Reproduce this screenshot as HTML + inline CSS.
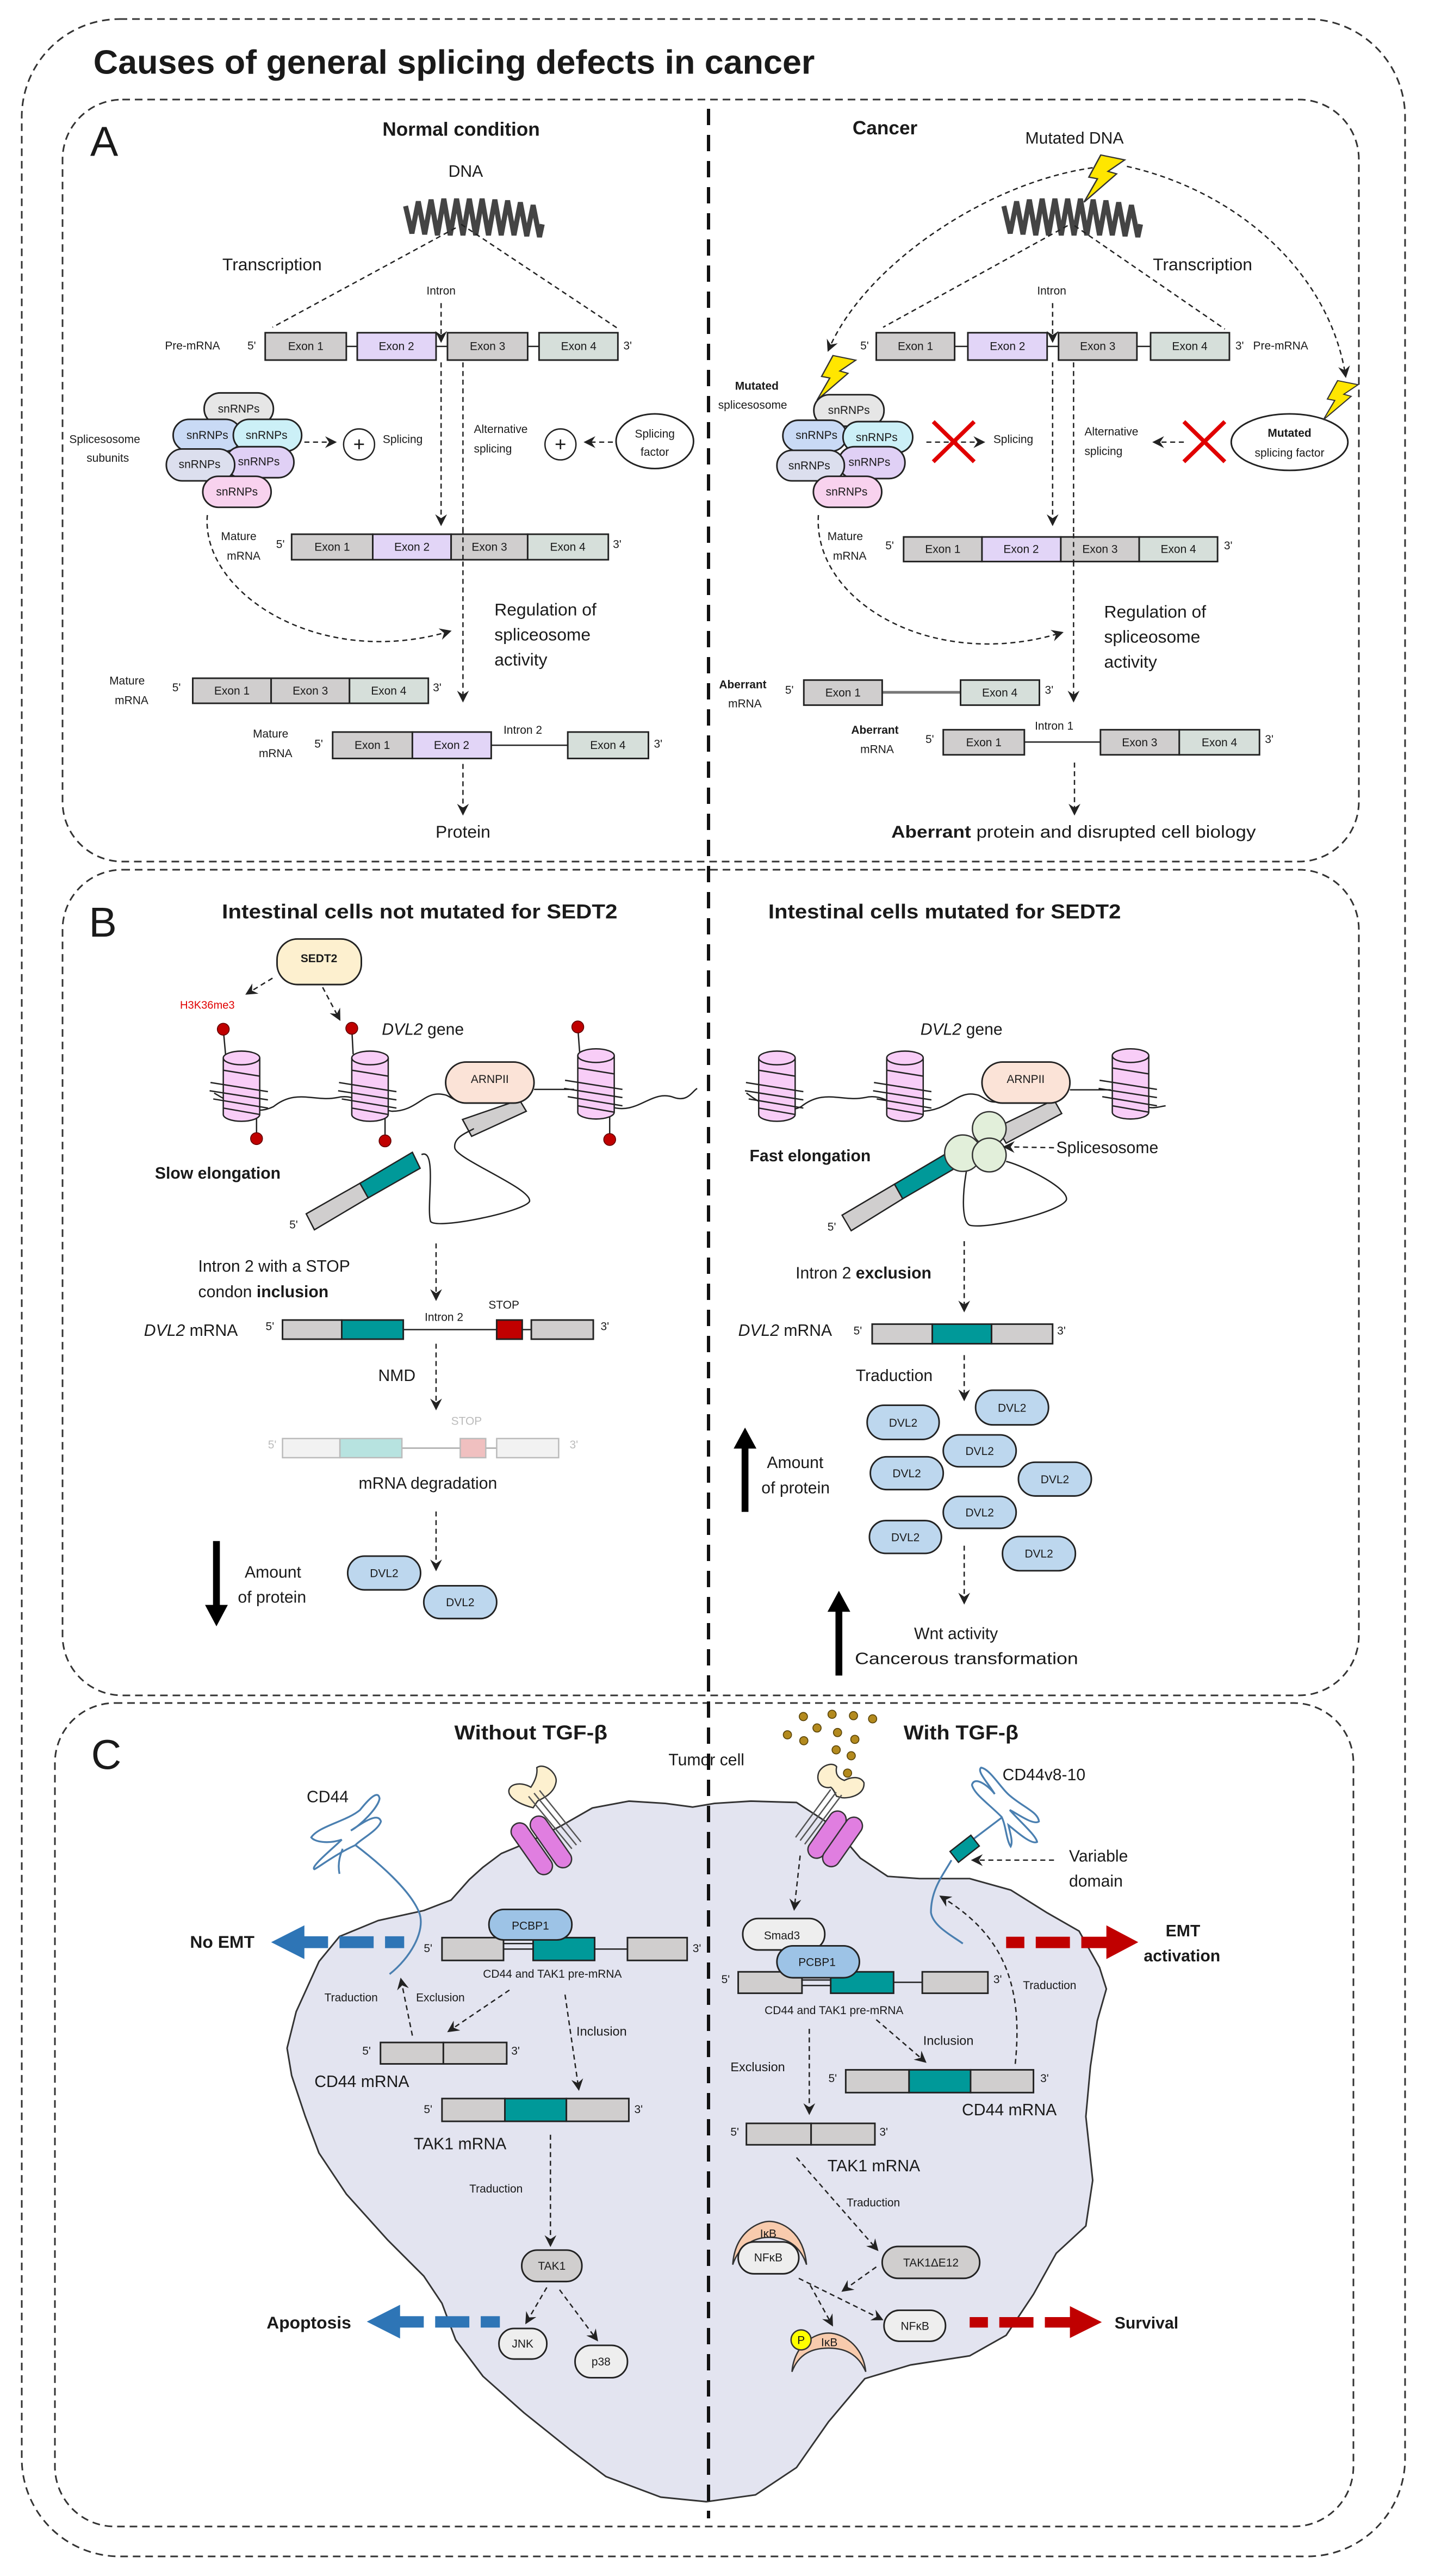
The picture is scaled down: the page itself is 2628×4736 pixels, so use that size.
<!DOCTYPE html>
<html><head><meta charset="utf-8">
<style>
html,body{margin:0;padding:0;background:#fff}
svg{display:block}
text{font-family:"Liberation Sans",sans-serif;fill:#1a1a1a}
.ex{font-size:25px;text-anchor:middle}
.sm{font-size:25px}
.md{font-size:36px}
.bd{font-weight:bold}
.c{text-anchor:middle}
.box{stroke:#222;stroke-width:3.5}
.dash{fill:none;stroke:#222;stroke-width:3;stroke-dasharray:11 8}
.g{fill:#d0cece}.p{fill:#e2d5f7}.gr{fill:#d6dfda}.t{fill:#009999}
.ln{stroke:#222;stroke-width:3;fill:none}
.pill{stroke:#222;stroke-width:3.5}
</style></head><body>
<svg xmlns="http://www.w3.org/2000/svg" width="2628" height="4736" viewBox="0 0 2628 4736">
<defs>
<marker id="ah" viewBox="0 0 12 12" refX="10" refY="6" markerWidth="26" markerHeight="26" markerUnits="userSpaceOnUse" orient="auto">
<path d="M0,0 L12,6 L0,12 L4,6 z" fill="#222"/></marker>
<g id="bolt"><polygon points="55,0 105,12 70,40 88,46 20,115 48,58 30,54" fill="#ffe600" stroke="#333" stroke-width="3"/></g>
<g id="nuc">
<path d="M-40,-62 L-40,62 A40,15 0 0 0 40,62 L40,-62" fill="#f8cdf7" stroke="#222" stroke-width="3"/>
<ellipse cx="0" cy="-62" rx="40" ry="15" fill="#f8cdf7" stroke="#222" stroke-width="3"/>
<path d="M-68,-8 L58,12 M-70,10 L58,30 M-62,28 L58,48 M-40,-35 L40,-22 M-40,48 L40,62" stroke="#222" stroke-width="3" fill="none"/>
</g>
<g id="helix"><polyline points="0,20 14,80 28,10 42,82 56,6 70,84 84,4 98,84 112,4 126,84 140,4 154,84 168,4 182,84 196,6 210,84 224,8 238,84 252,12 266,86 280,18 294,88 300,60" fill="none" stroke="#444" stroke-width="11"/></g>
<g id="xmark"><path d="M0,0 L90,88 M90,0 L0,88" stroke="#e00000" stroke-width="9"/></g>
</defs>

<!-- global frames -->
<rect x="40" y="35" width="2544" height="4665" rx="180" fill="none" stroke="#333" stroke-width="3" stroke-dasharray="14 9"/>
<rect x="115" y="183" width="2384" height="1401" rx="110" fill="none" stroke="#333" stroke-width="3" stroke-dasharray="14 9"/>
<rect x="115" y="1599" width="2384" height="1518" rx="110" fill="none" stroke="#333" stroke-width="3" stroke-dasharray="14 9"/>
<rect x="101" y="3131" width="2388" height="1514" rx="110" fill="none" stroke="#333" stroke-width="3" stroke-dasharray="14 9"/>

<!-- cell (tile10 coords) -->
<g transform="translate(0,3422) scale(0.838)">
<path d="M1550,1405 L1450,1395 L1330,1350 L1250,1290 L1150,1210 L1060,1130 L1000,1050 L970,970 L930,910 L850,830 L760,730 L700,640 L670,560 L640,470 L630,410 L650,330 L700,220 L745,165 L830,130 L930,108 L990,85 L1030,40 L1060,13 L1100,-17 L1160,-42 L1230,-77 L1300,-117 L1380,-132 L1460,-127 L1520,-119 L1568,-127 L1648,-132 L1748,-129 L1828,-77 L1888,-7 L1948,33 L2018,38 L2128,38 L2218,63 L2298,113 L2368,153 L2413,233 L2428,280 L2408,350 L2393,450 L2383,560 L2398,700 L2383,800 L2318,860 L2268,950 L2208,1040 L2128,1085 L1998,1105 L1898,1135 L1818,1230 L1748,1330 L1658,1390 Z" fill="#e3e4f0" stroke="#333" stroke-width="3.5" stroke-linejoin="round"/>
</g>

<!-- TILE 4 -->
<g transform="scale(0.838)">
<text x="205" y="162" font-size="74" class="bd" textLength="1583" lengthAdjust="spacingAndGlyphs">Causes of general splicing defects in cancer</text>
<text x="198" y="342" font-size="92">A</text>
<text x="1012" y="298" font-size="42" class="bd c">Normal condition</text>
<text x="1022" y="388" class="md c">DNA</text>
<use href="#helix" transform="translate(890,432)"/>
<path d="M1000,500 L598,718 M1012,492 L1355,720" class="dash"/>
<text x="488" y="593" font-size="38">Transcription</text>
<text x="968" y="646" class="sm c">Intron</text>
<path d="M968,665 L968,748" class="dash" marker-end="url(#ah)"/>
<text x="362" y="767" class="sm">Pre-mRNA</text><text x="543" y="767" class="sm">5'</text><text x="1368" y="767" class="sm">3'</text>
<path d="M760,760 L784,760 M957,760 L982,760 M1158,760 L1183,760" class="ln"/>
<rect x="582" y="730" width="178" height="60" class="box g"/><text x="671" y="768" class="ex">Exon 1</text>
<rect x="784" y="730" width="173" height="60" class="box p"/><text x="870" y="768" class="ex">Exon 2</text>
<rect x="982" y="730" width="176" height="60" class="box g"/><text x="1070" y="768" class="ex">Exon 3</text>
<rect x="1183" y="730" width="173" height="60" class="box gr"/><text x="1270" y="768" class="ex">Exon 4</text>
<path d="M968,795 L968,1150" class="dash" marker-end="url(#ah)"/>
<path d="M1016,795 L1016,1537" class="dash" marker-end="url(#ah)"/>
<rect x="448" y="862" width="152" height="70" rx="35" class="pill" fill="#e6e6e6"/>
<rect x="380" y="920" width="150" height="70" rx="35" class="pill" fill="#c9daf5"/>
<rect x="512" y="920" width="150" height="70" rx="35" class="pill" fill="#ccf0f7"/>
<rect x="495" y="980" width="150" height="68" rx="34" class="pill" fill="#e0d0f5"/>
<rect x="365" y="985" width="150" height="70" rx="35" class="pill" fill="#dcdfee"/>
<rect x="445" y="1045" width="150" height="68" rx="34" class="pill" fill="#f8d2ee"/>
<text x="524" y="905" class="ex">snRNPs</text><text x="455" y="963" class="ex">snRNPs</text><text x="585" y="963" class="ex">snRNPs</text>
<text x="438" y="1027" class="ex">snRNPs</text><text x="568" y="1021" class="ex">snRNPs</text><text x="520" y="1087" class="ex">snRNPs</text>
<text x="152" y="972" class="sm">Splicesosome</text><text x="190" y="1013" class="sm">subunits</text>
<path d="M668,970 L735,970" class="dash" marker-end="url(#ah)"/>
<circle cx="788" cy="975" r="34" fill="#fff" stroke="#222" stroke-width="3"/><text x="788" y="990" font-size="44" class="c">+</text>
<text x="840" y="972" class="sm">Splicing</text>
<text x="1040" y="950" class="sm">Alternative</text><text x="1040" y="993" class="sm">splicing</text>
<circle cx="1230" cy="975" r="34" fill="#fff" stroke="#222" stroke-width="3"/><text x="1230" y="990" font-size="44" class="c">+</text>
<path d="M1345,970 L1285,970" class="dash" marker-end="url(#ah)"/>
<ellipse cx="1437" cy="968" rx="85" ry="60" fill="#fff" stroke="#222" stroke-width="3.5"/>
<text x="1437" y="960" class="ex">Splicing</text><text x="1437" y="1000" class="ex">factor</text>
<text x="485" y="1185" class="sm">Mature</text><text x="498" y="1228" class="sm">mRNA</text><text x="606" y="1202" class="sm">5'</text><text x="1345" y="1202" class="sm">3'</text>
<rect x="640" y="1172" width="178" height="56" class="box g"/><text x="729" y="1208" class="ex">Exon 1</text>
<rect x="818" y="1172" width="172" height="56" class="box p"/><text x="904" y="1208" class="ex">Exon 2</text>
<rect x="990" y="1172" width="168" height="56" class="box g"/><text x="1074" y="1208" class="ex">Exon 3</text>
<rect x="1158" y="1172" width="177" height="56" class="box gr"/><text x="1246" y="1208" class="ex">Exon 4</text>
<path d="M1016,1160 L1016,1240" stroke="#222" stroke-width="3" stroke-dasharray="11 8"/>
<path d="M455,1130 C440,1300 700,1470 987,1385" class="dash" marker-end="url(#ah)"/>
<text x="1085" y="1350" font-size="38">Regulation of</text><text x="1085" y="1405" font-size="38">spliceosome</text><text x="1085" y="1460" font-size="38">activity</text>
<text x="240" y="1502" class="sm">Mature</text><text x="252" y="1545" class="sm">mRNA</text><text x="378" y="1517" class="sm">5'</text><text x="950" y="1517" class="sm">3'</text>
<rect x="423" y="1488" width="172" height="55" class="box g"/><text x="509" y="1524" class="ex">Exon 1</text>
<rect x="595" y="1488" width="172" height="55" class="box g"/><text x="681" y="1524" class="ex">Exon 3</text>
<rect x="767" y="1488" width="173" height="55" class="box gr"/><text x="853" y="1524" class="ex">Exon 4</text>
</g>

<!-- TILE 5 -->
<g transform="translate(1314,0) scale(0.838)">
<text x="303" y="295" font-size="42" class="bd">Cancer</text>
<text x="682" y="315" class="md">Mutated DNA</text>
<use href="#helix" transform="translate(635,432)"/>
<use href="#bolt" transform="translate(790,340) scale(1.05,0.9)"/>
<path d="M905,365 C1150,420 1350,600 1385,825" class="dash" marker-end="url(#ah)"/>
<path d="M830,368 C600,400 330,580 250,768" class="dash" marker-end="url(#ah)"/>
<path d="M775,495 L370,718 M790,495 L1120,722" class="dash"/>
<text x="962" y="593" font-size="38">Transcription</text>
<text x="740" y="646" class="sm c">Intron</text>
<path d="M742,665 L742,748" class="dash" marker-end="url(#ah)"/>
<text x="320" y="767" class="sm">5'</text><text x="1143" y="767" class="sm">3'</text><text x="1182" y="767" class="sm">Pre-mRNA</text>
<path d="M527,760 L556,760 M730,760 L755,760 M927,760 L957,760" class="ln"/>
<rect x="355" y="730" width="172" height="60" class="box g"/><text x="441" y="768" class="ex">Exon 1</text>
<rect x="556" y="730" width="174" height="60" class="box p"/><text x="643" y="768" class="ex">Exon 2</text>
<rect x="755" y="730" width="172" height="60" class="box g"/><text x="841" y="768" class="ex">Exon 3</text>
<rect x="957" y="730" width="173" height="60" class="box gr"/><text x="1043" y="768" class="ex">Exon 4</text>
<path d="M742,795 L742,1150" class="dash" marker-end="url(#ah)"/>
<path d="M788,795 L788,1537" class="dash" marker-end="url(#ah)"/>
<use href="#bolt" transform="translate(205,780) scale(1,0.85)"/>
<text x="45" y="855" class="sm bd">Mutated</text><text x="8" y="897" class="sm">splicesosome</text>
<rect x="218" y="866" width="154" height="69" rx="34" class="pill" fill="#e6e6e6"/>
<rect x="150" y="922" width="140" height="68" rx="34" class="pill" fill="#c9daf5"/>
<rect x="282" y="925" width="153" height="68" rx="34" class="pill" fill="#ccf0f7"/>
<rect x="272" y="980" width="146" height="70" rx="35" class="pill" fill="#e0d0f5"/>
<rect x="137" y="988" width="148" height="67" rx="33" class="pill" fill="#dcdfee"/>
<rect x="217" y="1045" width="150" height="68" rx="34" class="pill" fill="#f8d2ee"/>
<text x="295" y="908" class="ex">snRNPs</text><text x="224" y="963" class="ex">snRNPs</text><text x="356" y="968" class="ex">snRNPs</text>
<text x="208" y="1030" class="ex">snRNPs</text><text x="340" y="1022" class="ex">snRNPs</text><text x="290" y="1087" class="ex">snRNPs</text>
<path d="M465,970 L590,970" class="dash" marker-end="url(#ah)"/>
<use href="#xmark" transform="translate(480,925)"/>
<text x="612" y="972" class="sm">Splicing</text>
<text x="812" y="955" class="sm">Alternative</text><text x="812" y="998" class="sm">splicing</text>
<path d="M1030,970 L965,970" class="dash" marker-end="url(#ah)"/>
<use href="#xmark" transform="translate(1030,925)"/>
<ellipse cx="1262" cy="970" rx="128" ry="62" fill="#fff" stroke="#222" stroke-width="3.5"/>
<text x="1262" y="958" class="ex bd">Mutated</text><text x="1262" y="1002" class="ex">splicing factor</text>
<use href="#bolt" transform="translate(1318,835) scale(0.9,0.75)"/>
<text x="248" y="1185" class="sm">Mature</text><text x="260" y="1228" class="sm">mRNA</text><text x="375" y="1205" class="sm">5'</text><text x="1118" y="1205" class="sm">3'</text>
<rect x="415" y="1178" width="172" height="54" class="box g"/><text x="501" y="1213" class="ex">Exon 1</text>
<rect x="587" y="1178" width="173" height="54" class="box p"/><text x="673" y="1213" class="ex">Exon 2</text>
<rect x="760" y="1178" width="172" height="54" class="box g"/><text x="846" y="1213" class="ex">Exon 3</text>
<rect x="932" y="1178" width="172" height="54" class="box gr"/><text x="1018" y="1213" class="ex">Exon 4</text>
<path d="M788,1170 L788,1240" stroke="#222" stroke-width="3" stroke-dasharray="11 8"/>
<path d="M228,1130 C215,1320 480,1475 762,1388" class="dash" marker-end="url(#ah)"/>
<text x="855" y="1355" font-size="38">Regulation of</text><text x="855" y="1410" font-size="38">spliceosome</text><text x="855" y="1465" font-size="38">activity</text>
<text x="10" y="1510" class="sm bd">Aberrant</text><text x="30" y="1552" class="sm">mRNA</text><text x="155" y="1522" class="sm">5'</text><text x="725" y="1522" class="sm">3'</text>
<path d="M368,1519 L540,1519" stroke="#777" stroke-width="6"/>
<rect x="196" y="1492" width="172" height="55" class="box g"/><text x="282" y="1528" class="ex">Exon 1</text>
<rect x="540" y="1492" width="173" height="55" class="box gr"/><text x="626" y="1528" class="ex">Exon 4</text>
</g>

<!-- TILE 6 -->
<g transform="translate(0,1314) scale(0.838)">
<text x="555" y="50" class="sm">Mature</text><text x="568" y="93" class="sm">mRNA</text><text x="690" y="72" class="sm">5'</text><text x="1435" y="72" class="sm">3'</text>
<text x="1105" y="42" class="sm">Intron 2</text>
<path d="M1078,67 L1246,67" class="ln"/>
<rect x="730" y="38" width="175" height="58" class="box g"/><text x="817" y="75" class="ex">Exon 1</text>
<rect x="905" y="38" width="173" height="58" class="box p"/><text x="991" y="75" class="ex">Exon 2</text>
<rect x="1246" y="38" width="177" height="58" class="box gr"/><text x="1334" y="75" class="ex">Exon 4</text>
<path d="M1016,108 L1016,217" class="dash" marker-end="url(#ah)"/>
<text x="1016" y="270" font-size="38" class="c">Protein</text>
<text x="195" y="487" font-size="92">B</text>
<text x="487" y="447" font-size="44" class="bd" textLength="868" lengthAdjust="spacingAndGlyphs">Intestinal cells not mutated for SEDT2</text>
<rect x="608" y="492" width="185" height="100" rx="45" class="pill" fill="#fdf0cf"/>
<text x="700" y="543" class="ex bd">SEDT2</text>
<path d="M598,578 L542,612" class="dash" marker-end="url(#ah)"/>
<text x="395" y="645" font-size="24" fill="#e00000" style="fill:#e00000">H3K36me3</text>
<path d="M708,598 L745,668" class="dash" marker-end="url(#ah)"/>
<text x="838" y="702" class="md"><tspan font-style="italic">DVL2</tspan> gene</text>
<path d="M470,830 C520,860 560,880 600,860 C650,820 690,850 740,840 C780,830 800,860 860,870 C920,870 930,820 980,835 C1000,845 1000,850 1030,850" class="ln"/>
<path d="M1172,822 L1260,822 M1340,860 C1400,880 1430,820 1480,840 C1510,850 1520,825 1530,820" class="ln"/>
<line x1="490" y1="690" x2="495" y2="745" class="ln"/><line x1="563" y1="880" x2="563" y2="930" class="ln"/>
<line x1="772" y1="688" x2="775" y2="745" class="ln"/><line x1="845" y1="880" x2="845" y2="935" class="ln"/>
<line x1="1268" y1="685" x2="1272" y2="740" class="ln"/><line x1="1338" y1="880" x2="1338" y2="932" class="ln"/>
<use href="#nuc" transform="translate(530,815)"/>
<use href="#nuc" transform="translate(812,815)"/>
<use href="#nuc" transform="translate(1308,810)"/>
<circle cx="490" cy="690" r="13" fill="#c00000" stroke="#600" stroke-width="2"/><circle cx="563" cy="930" r="13" fill="#c00000" stroke="#600" stroke-width="2"/>
<circle cx="772" cy="688" r="13" fill="#c00000" stroke="#600" stroke-width="2"/><circle cx="845" cy="935" r="13" fill="#c00000" stroke="#600" stroke-width="2"/>
<circle cx="1268" cy="685" r="13" fill="#c00000" stroke="#600" stroke-width="2"/><circle cx="1338" cy="932" r="13" fill="#c00000" stroke="#600" stroke-width="2"/>
<polygon points="1015,888 1140,845 1155,870 1035,925" fill="#d0cece" stroke="#222" stroke-width="3"/>
<rect x="978" y="762" width="194" height="90" rx="45" class="pill" fill="#fbe3d7"/>
<text x="1075" y="808" class="ex">ARNPII</text>
<path d="M925,965 C960,950 935,1080 945,1112 C960,1130 1150,1090 1162,1068 C1170,1040 1000,975 998,950 C995,925 1030,915 1040,908" class="ln"/>
<polygon points="672,1095 790,1028 808,1060 690,1130" fill="#d0cece" stroke="#222" stroke-width="3"/>
<polygon points="790,1028 905,960 922,995 808,1060" fill="#009999" stroke="#222" stroke-width="3"/>
<text x="635" y="1127" class="sm">5'</text>
<text x="340" y="1018" class="md bd">Slow elongation</text>
<path d="M957,1160 L957,1282" class="dash" marker-end="url(#ah)"/>
<text x="435" y="1222" class="md">Intron 2 with a STOP</text>
<text x="435" y="1278" class="md">condon <tspan font-weight="bold">inclusion</tspan></text>
<text x="316" y="1363" class="md"><tspan font-style="italic">DVL2</tspan> mRNA</text>
<text x="583" y="1350" class="sm">5'</text><text x="1318" y="1350" class="sm">3'</text>
<text x="932" y="1330" class="sm">Intron 2</text><text x="1072" y="1303" class="sm">STOP</text>
<path d="M885,1349 L1090,1349 M1146,1349 L1166,1349" class="ln"/>
<rect x="620" y="1328" width="130" height="42" class="box g"/>
<rect x="750" y="1328" width="135" height="42" class="box t"/>
<rect x="1090" y="1328" width="56" height="42" class="box" fill="#c00000"/>
<rect x="1166" y="1328" width="136" height="42" class="box g"/>
<text x="830" y="1462" class="md">NMD</text>
<path d="M957,1380 L957,1522" class="dash" marker-end="url(#ah)"/>
<text x="990" y="1558" class="sm" style="fill:#bbb">STOP</text>
</g>

<!-- TILE 7 -->
<g transform="translate(1314,1314) scale(0.838)">
<text x="300" y="42" class="sm bd">Aberrant</text><text x="320" y="84" class="sm">mRNA</text><text x="463" y="62" class="sm">5'</text><text x="1208" y="62" class="sm">3'</text>
<text x="703" y="33" class="sm">Intron 1</text>
<path d="M680,60 L847,60" class="ln"/>
<rect x="502" y="33" width="178" height="55" class="box g"/><text x="591" y="69" class="ex">Exon 1</text>
<rect x="847" y="33" width="173" height="55" class="box g"/><text x="933" y="69" class="ex">Exon 3</text>
<rect x="1020" y="33" width="176" height="55" class="box gr"/><text x="1108" y="69" class="ex">Exon 4</text>
<path d="M790,105 L790,217" class="dash" marker-end="url(#ah)"/>
<text x="388" y="270" font-size="38" textLength="800" lengthAdjust="spacingAndGlyphs"><tspan font-weight="bold">Aberrant</tspan> protein and disrupted cell biology</text>
<text x="118" y="447" font-size="44" class="bd" textLength="774" lengthAdjust="spacingAndGlyphs">Intestinal cells mutated for SEDT2</text>
<text x="452" y="702" class="md"><tspan font-style="italic">DVL2</tspan> gene</text>
<path d="M70,830 C110,860 150,880 190,860 C240,820 280,850 330,840 C370,830 390,860 450,870 C520,870 530,820 580,835 C600,845 600,850 620,850" class="ln"/>
<path d="M780,823 L870,823 M945,860 C965,865 975,860 990,858" class="ln"/>
<use href="#nuc" transform="translate(137,815)"/>
<use href="#nuc" transform="translate(418,815)"/>
<use href="#nuc" transform="translate(913,810)"/>
<polygon points="620,905 745,845 762,875 640,940" fill="#d0cece" stroke="#222" stroke-width="3"/>
<rect x="587" y="762" width="193" height="90" rx="45" class="pill" fill="#fbe3d7"/>
<text x="683" y="808" class="ex">ARNPII</text>
<path d="M555,990 C545,1040 540,1110 560,1120 C600,1130 760,1090 772,1065 C780,1040 680,990 640,980" class="ln"/>
<polygon points="280,1098 395,1030 413,1062 300,1132" fill="#d0cece" stroke="#222" stroke-width="3"/>
<polygon points="395,1030 510,962 528,995 413,1062" fill="#009999" stroke="#222" stroke-width="3"/>
<circle cx="603" cy="908" r="37" fill="#e2efda" stroke="#333" stroke-width="3"/>
<circle cx="545" cy="962" r="40" fill="#e2efda" stroke="#333" stroke-width="3"/>
<circle cx="603" cy="966" r="37" fill="#e2efda" stroke="#333" stroke-width="3"/>
<text x="248" y="1132" class="sm">5'</text>
<text x="77" y="980" class="md bd">Fast elongation</text>
<path d="M745,950 L637,948" class="dash" marker-end="url(#ah)"/>
<text x="750" y="962" class="md">Splicesosome</text>
<path d="M548,1155 L548,1307" class="dash" marker-end="url(#ah)"/>
<text x="178" y="1237" class="md">Intron 2 <tspan font-weight="bold">exclusion</tspan></text>
<text x="52" y="1363" class="md"><tspan font-style="italic">DVL2</tspan> mRNA</text>
<text x="305" y="1360" class="sm">5'</text><text x="752" y="1360" class="sm">3'</text>
<rect x="346" y="1337" width="132" height="43" class="box g"/>
<rect x="478" y="1337" width="130" height="43" class="box t"/>
<rect x="608" y="1337" width="134" height="43" class="box g"/>
<text x="310" y="1462" class="md">Traduction</text>
<path d="M548,1405 L548,1502" class="dash" marker-end="url(#ah)"/>
</g>

<!-- TILE 8 -->
<g transform="translate(0,2628) scale(0.838)">
<text x="588" y="42" class="sm" style="fill:#bbb">5'</text><text x="1250" y="42" class="sm" style="fill:#bbb">3'</text>
<path d="M882,41 L1010,41 M1066,41 L1090,41" stroke="#aaa" stroke-width="3"/>
<rect x="620" y="20" width="126" height="42" fill="#f2f2f2" stroke="#bbb" stroke-width="3"/>
<rect x="746" y="20" width="136" height="42" fill="#b7e3e0" stroke="#bbb" stroke-width="3"/>
<rect x="1010" y="20" width="56" height="42" fill="#f0c0c0" stroke="#bbb" stroke-width="3"/>
<rect x="1090" y="20" width="136" height="42" fill="#f2f2f2" stroke="#bbb" stroke-width="3"/>
<text x="787" y="130" class="md">mRNA degradation</text>
<path d="M957,180 L957,307" class="dash" marker-end="url(#ah)"/>
<path d="M475,245 L475,390" stroke="#000" stroke-width="15"/><polygon points="450,385 500,385 475,432" fill="#000"/>
<text x="537" y="325" class="md">Amount</text><text x="522" y="380" class="md">of protein</text>
<rect x="763" y="278" width="160" height="74" rx="37" class="pill" fill="#bdd7ee"/><text x="843" y="324" class="ex">DVL2</text>
<rect x="930" y="343" width="160" height="72" rx="36" class="pill" fill="#bdd7ee"/><text x="1010" y="388" class="ex">DVL2</text>
<text x="200" y="745" font-size="92">C</text>
<text x="997" y="680" font-size="44" class="bd" textLength="336" lengthAdjust="spacingAndGlyphs">Without TGF-β</text>
<text x="1467" y="737" class="md">Tumor cell</text>
<text x="673" y="818" class="md">CD44</text>
<path d="M780,912 C740,930 700,960 690,965 C680,960 730,920 750,900 C720,910 690,905 683,895 C700,870 760,860 790,835 C810,810 830,790 833,810 C830,830 790,870 770,880 C800,860 830,840 836,860 C830,880 790,900 780,912 C830,950 900,1010 920,1060 C935,1100 900,1160 855,1195" fill="none" stroke="#4a7fb0" stroke-width="4"/>
<path d="M745,975 C740,950 748,930 752,920" fill="none" stroke="#4a7fb0" stroke-width="4"/>
<path d="M1118,800 C1110,780 1140,770 1165,785 C1175,770 1180,755 1178,742 C1195,730 1225,755 1220,775 C1215,800 1190,810 1180,815 L1170,830 C1150,825 1125,815 1118,800 Z" fill="#fdf0cf" stroke="#333" stroke-width="3"/>
<path d="M1160,805 L1255,920 M1172,798 L1265,912 M1184,792 L1275,905" stroke="#555" stroke-width="3"/>
<rect x="1148" y="855" width="38" height="130" rx="19" transform="rotate(-35 1167 920)" fill="#e07ee0" stroke="#333" stroke-width="3"/>
<rect x="1190" y="840" width="38" height="130" rx="19" transform="rotate(-35 1209 905)" fill="#e07ee0" stroke="#333" stroke-width="3"/>
<text x="417" y="1137" font-size="38" class="bd">No EMT</text>
<polygon points="595,1125 668,1088 668,1162" fill="#2e75b6"/>
<rect x="665" y="1112" width="55" height="26" fill="#2e75b6"/><rect x="745" y="1112" width="75" height="26" fill="#2e75b6"/><rect x="845" y="1112" width="42" height="26" fill="#2e75b6"/>
<path d="M1105,1128 L1170,1128 M1105,1140 L1170,1140 M1305,1140 L1377,1140" class="ln"/>
<rect x="970" y="1115" width="135" height="50" class="box g"/>
<rect x="1170" y="1115" width="135" height="50" class="box t"/>
<rect x="1377" y="1115" width="131" height="50" class="box g"/>
<rect x="1073" y="1053" width="182" height="67" rx="33" class="pill" fill="#9dc3e6"/><text x="1164" y="1097" class="ex">PCBP1</text>
<text x="930" y="1147" class="sm">5'</text><text x="1520" y="1147" class="sm">3'</text>
<text x="1060" y="1203" class="sm">CD44 and TAK1 pre-mRNA</text>
<text x="712" y="1255" class="sm">Traduction</text><text x="913" y="1255" class="sm">Exclusion</text>
<path d="M905,1330 L880,1207" class="dash" marker-end="url(#ah)"/>
<path d="M1118,1230 L985,1320" class="dash" marker-end="url(#ah)"/>
<text x="795" y="1372" class="sm">5'</text><text x="1122" y="1372" class="sm">3'</text>
<rect x="835" y="1345" width="138" height="47" class="box g"/><rect x="973" y="1345" width="139" height="47" class="box g"/>
<text x="690" y="1443" class="md">CD44 mRNA</text>
<text x="1265" y="1330" font-size="28">Inclusion</text>
<path d="M1240,1240 L1270,1447" class="dash" marker-end="url(#ah)"/>
<text x="930" y="1500" class="sm">5'</text><text x="1392" y="1500" class="sm">3'</text>
<rect x="970" y="1468" width="138" height="50" class="box g"/><rect x="1108" y="1468" width="135" height="50" class="box t"/><rect x="1243" y="1468" width="137" height="50" class="box g"/>
</g>

<!-- TILE 10 -->
<g transform="translate(0,3422) scale(0.838)">
<text x="908" y="632" class="md">TAK1 mRNA</text>
<path d="M1208,600 L1208,842" class="dash" marker-end="url(#ah)"/>
<text x="1030" y="727" class="sm">Traduction</text>
<rect x="1145" y="853" width="132" height="69" rx="34" class="pill" fill="#d0cece"/><text x="1211" y="896" class="ex">TAK1</text>
<path d="M1200,935 L1155,1012" class="dash" marker-end="url(#ah)"/>
<path d="M1228,940 L1310,1050" class="dash" marker-end="url(#ah)"/>
<rect x="1095" y="1025" width="105" height="67" rx="33" class="pill" fill="#eeeeee"/><text x="1147" y="1067" class="ex">JNK</text>
<rect x="1262" y="1062" width="115" height="71" rx="35" class="pill" fill="#eeeeee"/><text x="1319" y="1106" class="ex">p38</text>
<text x="585" y="1025" font-size="38" class="bd">Apoptosis</text>
<polygon points="805,1010 878,973 878,1047" fill="#2e75b6"/>
<rect x="875" y="998" width="55" height="25" fill="#2e75b6"/><rect x="955" y="998" width="75" height="25" fill="#2e75b6"/><rect x="1055" y="998" width="42" height="25" fill="#2e75b6"/>
</g>

<!-- TILE 9 -->
<g transform="translate(1314,2628) scale(0.838)">
<rect x="335" y="-53" width="158" height="75" rx="37" class="pill" fill="#bdd7ee"/><text x="414" y="-6" class="ex">DVL2</text>
<rect x="573" y="-86" width="160" height="76" rx="38" class="pill" fill="#bdd7ee"/><text x="653" y="-39" class="ex">DVL2</text>
<rect x="502" y="12" width="160" height="70" rx="35" class="pill" fill="#bdd7ee"/><text x="582" y="56" class="ex">DVL2</text>
<rect x="342" y="60" width="160" height="72" rx="36" class="pill" fill="#bdd7ee"/><text x="422" y="105" class="ex">DVL2</text>
<rect x="667" y="72" width="160" height="74" rx="37" class="pill" fill="#bdd7ee"/><text x="747" y="118" class="ex">DVL2</text>
<rect x="502" y="147" width="160" height="70" rx="35" class="pill" fill="#bdd7ee"/><text x="582" y="191" class="ex">DVL2</text>
<rect x="340" y="200" width="158" height="72" rx="36" class="pill" fill="#bdd7ee"/><text x="419" y="245" class="ex">DVL2</text>
<rect x="632" y="235" width="160" height="75" rx="37" class="pill" fill="#bdd7ee"/><text x="712" y="281" class="ex">DVL2</text>
<path d="M67,181 L67,35" stroke="#000" stroke-width="15"/><polygon points="42,42 92,42 67,-4" fill="#000"/>
<text x="115" y="85" class="md">Amount</text><text x="103" y="140" class="md">of protein</text>
<path d="M548,255 L548,380" class="dash" marker-end="url(#ah)"/>
<path d="M273,540 L273,395" stroke="#000" stroke-width="15"/><polygon points="248,400 298,400 273,354" fill="#000"/>
<text x="438" y="460" class="md">Wnt activity</text><text x="308" y="515" class="md" textLength="490" lengthAdjust="spacingAndGlyphs">Cancerous transformation</text>
<g fill="#b38a1e" stroke="#5a4408" stroke-width="2">
<circle cx="195" cy="630" r="9"/><circle cx="258" cy="625" r="9"/><circle cx="305" cy="628" r="9"/><circle cx="347" cy="635" r="9"/><circle cx="160" cy="670" r="9"/><circle cx="225" cy="655" r="9"/><circle cx="270" cy="665" r="9"/><circle cx="308" cy="680" r="9"/><circle cx="196" cy="683" r="9"/><circle cx="267" cy="703" r="9"/><circle cx="300" cy="716" r="9"/><circle cx="292" cy="754" r="9"/></g>
<text x="415" y="680" font-size="44" class="bd" textLength="252" lengthAdjust="spacingAndGlyphs">With TGF-β</text>
<path d="M255,785 C235,790 220,770 230,750 C240,735 260,730 268,740 C265,755 270,765 285,770 C300,762 320,760 328,775 C330,800 300,810 280,808 L268,805 C265,800 262,790 255,785 Z" fill="#fdf0cf" stroke="#333" stroke-width="3"/>
<path d="M255,790 L178,895 M267,796 L188,902 M279,802 L198,910" stroke="#555" stroke-width="3"/>
<rect x="228" y="830" width="38" height="118" rx="19" transform="rotate(35 247 889)" fill="#e07ee0" stroke="#333" stroke-width="3"/>
<rect x="262" y="843" width="38" height="124" rx="19" transform="rotate(35 281 905)" fill="#e07ee0" stroke="#333" stroke-width="3"/>
<path d="M188,935 L175,1052" class="dash" marker-end="url(#ah)"/>
<text x="632" y="770" class="md">CD44v8-10</text>
<path d="M630,850 C600,820 570,800 565,780 C570,760 600,780 615,800 C600,775 575,750 585,742 C605,745 630,790 650,805 C680,830 710,840 712,860 C700,870 660,840 648,835 C670,860 705,890 708,905 C695,912 660,880 645,868 C650,890 655,905 650,915 C640,900 640,870 630,850 Z" fill="none" stroke="#4a7fb0" stroke-width="4"/>
<path d="M630,852 L560,905 M520,945 C500,980 475,1010 475,1060 C480,1090 520,1110 545,1128" fill="none" stroke="#4a7fb0" stroke-width="4"/>
<rect x="520" y="905" width="58" height="30" transform="rotate(-38 549 920)" fill="#009999" stroke="#222" stroke-width="3"/>
<path d="M745,945 L567,945" class="dash" marker-end="url(#ah)"/>
<text x="778" y="948" class="md">Variable</text><text x="778" y="1003" class="md">domain</text>
<path d="M660,1392 C680,1200 620,1100 497,1025" class="dash" marker-end="url(#ah)"/>
<text x="677" y="1228" class="sm">Traduction</text>
<rect x="640" y="1113" width="40" height="25" fill="#c00000"/><rect x="705" y="1113" width="75" height="25" fill="#c00000"/><rect x="805" y="1113" width="58" height="25" fill="#c00000"/>
<polygon points="860,1088 930,1125 860,1162" fill="#c00000"/>
<text x="990" y="1112" class="md bd">EMT</text><text x="942" y="1167" class="md bd">activation</text>
<path d="M192,1208 L255,1208 M192,1220 L255,1220 M393,1213 L456,1213" class="ln"/>
<rect x="52" y="1190" width="140" height="47" class="box g"/><rect x="255" y="1190" width="138" height="47" class="box t"/><rect x="456" y="1190" width="144" height="47" class="box g"/>
<rect x="62" y="1073" width="180" height="69" rx="34" class="pill" fill="#eeeeee"/><text x="148" y="1119" class="ex">Smad3</text>
<rect x="137" y="1133" width="181" height="70" rx="35" class="pill" fill="#9dc3e6"/><text x="225" y="1177" class="ex">PCBP1</text>
<text x="15" y="1215" class="sm">5'</text><text x="612" y="1215" class="sm">3'</text>
<text x="110" y="1283" class="sm">CD44 and TAK1 pre-mRNA</text>
<path d="M355,1295 L462,1387" class="dash" marker-end="url(#ah)"/>
<text x="458" y="1350" font-size="28">Inclusion</text>
<text x="35" y="1408" font-size="28">Exclusion</text>
<path d="M208,1315 L208,1500" class="dash" marker-end="url(#ah)"/>
<text x="250" y="1432" class="sm">5'</text><text x="715" y="1432" class="sm">3'</text>
<rect x="288" y="1405" width="139" height="50" class="box g"/><rect x="427" y="1405" width="135" height="50" class="box t"/><rect x="562" y="1405" width="138" height="50" class="box g"/>
<text x="543" y="1505" class="md">CD44 mRNA</text>
</g>

<!-- TILE 11 -->
<g transform="translate(1314,3422) scale(0.838)">
<text x="35" y="602" class="sm">5'</text><text x="362" y="602" class="sm">3'</text>
<rect x="70" y="575" width="142" height="47" class="box g"/><rect x="212" y="575" width="140" height="47" class="box g"/>
<text x="248" y="680" class="md">TAK1 mRNA</text>
<path d="M180,650 L357,852" class="dash" marker-end="url(#ah)"/>
<text x="290" y="757" class="sm">Traduction</text>
<path d="M40,885 C45,810 100,790 120,790 C145,790 195,810 202,885 C185,835 150,825 120,825 C90,825 55,840 40,885 Z" fill="#f8cbad" stroke="#333" stroke-width="3"/>
<rect x="52" y="835" width="133" height="70" rx="35" class="pill" fill="#eeeeee"/>
<text x="118" y="825" class="ex">IκB</text><text x="118" y="878" class="ex">NFκB</text>
<rect x="368" y="845" width="214" height="70" rx="35" class="pill" fill="#d0cece"/><text x="475" y="889" class="ex">TAK1ΔE12</text>
<path d="M355,890 L282,942" class="dash" marker-end="url(#ah)"/>
<path d="M185,915 L367,1005" class="dash" marker-end="url(#ah)"/>
<path d="M210,930 L258,1017" class="dash" marker-end="url(#ah)"/>
<rect x="372" y="985" width="135" height="68" rx="34" class="pill" fill="#eeeeee"/><text x="440" y="1028" class="ex">NFκB</text>
<path d="M170,1120 C175,1060 220,1035 250,1035 C280,1035 325,1060 332,1120 C315,1080 285,1068 250,1068 C215,1068 185,1080 170,1120 Z" fill="#f8cbad" stroke="#333" stroke-width="3"/>
<circle cx="190" cy="1050" r="22" fill="#ffff00" stroke="#333" stroke-width="3"/><text x="190" y="1059" class="ex">P</text>
<text x="252" y="1064" class="ex">IκB</text>
<rect x="560" y="1000" width="40" height="23" fill="#c00000"/><rect x="625" y="1000" width="75" height="23" fill="#c00000"/><rect x="725" y="1000" width="58" height="23" fill="#c00000"/>
<polygon points="780,976 850,1011 780,1046" fill="#c00000"/>
<text x="878" y="1025" class="md bd">Survival</text>
</g>

<!-- central divider -->
<line x1="1303" y1="200" x2="1303" y2="4630" stroke="#111" stroke-width="6" stroke-dasharray="30 18"/>
</svg>
</body></html>
